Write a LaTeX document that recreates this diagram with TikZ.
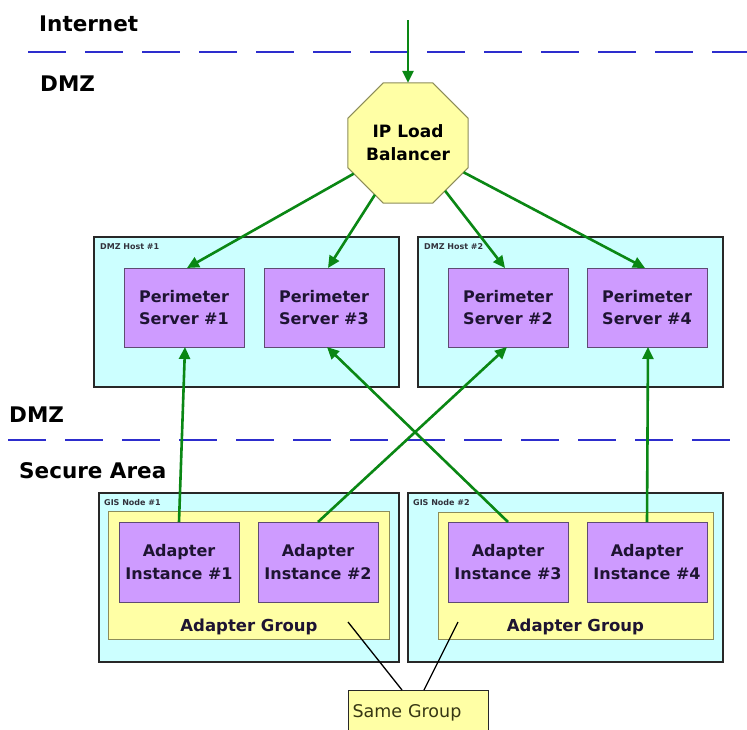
\documentclass[tikz,border=0pt]{standalone}
\usepackage{fontspec}
\setmainfont{DejaVu Sans}
\usetikzlibrary{shapes.geometric,arrows.meta,calc}
\definecolor{zoneblue}{RGB}{45,45,205}
\definecolor{cyanfill}{RGB}{204,255,255}
\definecolor{yelfill}{RGB}{255,255,165}
\definecolor{violetfill}{RGB}{206,155,255}
\definecolor{boxline}{RGB}{40,40,40}
\definecolor{srvline}{RGB}{95,75,115}
\definecolor{grpline}{RGB}{140,140,90}
\definecolor{flowgreen}{RGB}{10,135,20}
\definecolor{txt}{RGB}{30,20,50}
\definecolor{tagtxt}{RGB}{50,50,60}
\definecolor{sgtxt}{RGB}{55,55,20}
\tikzset{
  zone/.style={draw=zoneblue, line width=2pt, dash pattern=on 38pt off 19pt},
  heading/.style={font=\bfseries\fontsize{21.5}{24}\selectfont, anchor=base west, inner sep=0, text=black},
  hostbox/.style={draw=boxline, line width=1.8pt, fill=cyanfill, inner sep=0, outer sep=0},
  grpbox/.style={draw=grpline, line width=1pt, fill=yelfill, inner sep=0, outer sep=0},
  srv/.style={draw=srvline, line width=1pt, fill=violetfill, minimum width=120, minimum height=79,
    inner sep=0, outer sep=0, align=center, text=txt, font=\bfseries\fontsize{16}{22.5}\selectfont},
  tag/.style={font=\bfseries\fontsize{8}{9}\selectfont, text=tagtxt, anchor=north west, inner sep=0},
  grplabel/.style={font=\bfseries\fontsize{16.5}{20}\selectfont, text=txt, anchor=base, inner sep=0},
  balancer/.style={regular polygon, regular polygon sides=8, minimum size=130, inner sep=0, outer sep=0,
    draw=grpline, line width=1pt, fill=yelfill, align=center, text=black,
    font=\bfseries\fontsize{17}{23}\selectfont},
  flow/.style={draw=flowgreen, line width=2.6pt, -{Triangle[length=12pt,width=11pt]}},
  link/.style={draw=black, line width=1.3pt},
  samebox/.style={draw=boxline, line width=1.2pt, fill=yelfill, anchor=north west, minimum width=140,
    minimum height=44, text width=132, inner sep=4, align=left, text=sgtxt,
    font=\fontsize{17.5}{20}\selectfont},
}
\begin{document}
\begin{tikzpicture}[x=1pt,y=-1pt]
\useasboundingbox[fill=white] (0,0) rectangle (747,729);

% zone separators and headings
\draw[zone] (28,52) -- (747,52);
\draw[zone] (8,440) -- (747,440);
\node[heading] (tinternet) at (39,31) {Internet};
\node[heading] (tdmz1) at (40,91) {DMZ};
\node[heading] (tdmz2) at (9,422) {DMZ};
\node[heading] (tsecure) at (19,478) {Secure Area};

% DMZ hosts
\node[hostbox, minimum width=305, minimum height=150] (h1) at (246.5,312) {};
\node[hostbox, minimum width=305, minimum height=150] (h2) at (570.5,312) {};
\node[tag] (h1t) at ($(h1.north west)+(6,6)$) {DMZ Host \#1};
\node[tag] (h2t) at ($(h2.north west)+(6,6)$) {DMZ Host \#2};

\node[srv] (ps1) at (184,307.5) {Perimeter\\Server \#1};
\node[srv] (ps3) at (324,307.5) {Perimeter\\Server \#3};
\node[srv] (ps2) at (508,307.5) {Perimeter\\Server \#2};
\node[srv] (ps4) at (647,307.5) {Perimeter\\Server \#4};

% GIS nodes
\node[hostbox, minimum width=300, minimum height=169] (g1) at (249,577.5) {};
\node[hostbox, minimum width=315, minimum height=169] (g2) at (565.5,577.5) {};
\node[tag] (g1t) at ($(g1.north west)+(5,6)$) {GIS Node \#1};
\node[tag] (g2t) at ($(g2.north west)+(5,6)$) {GIS Node \#2};

\node[grpbox, minimum width=281, minimum height=128] (ag1) at (248.5,575) {};
\node[grpbox, minimum width=275, minimum height=127] (ag2) at (575.5,575.5) {};
\node[grplabel] (ag1t) at (249,631) {Adapter Group};
\node[grplabel] (ag2t) at (575.5,631) {Adapter Group};

\node[srv, minimum height=80] (ai1) at (179,562) {Adapter\\Instance \#1};
\node[srv, minimum height=80] (ai2) at (318,562) {Adapter\\Instance \#2};
\node[srv, minimum height=80] (ai3) at (508,562) {Adapter\\Instance \#3};
\node[srv, minimum height=80] (ai4) at (647,562) {Adapter\\Instance \#4};

% load balancer
\node[balancer] (lb) at (408,143) {IP Load\\Balancer};
\coordinate (net) at (408,20);

% same group
\node[samebox] (sg) at (348,690) {Same Group};
\coordinate (sg1) at (348,622);
\coordinate (sg2) at (458,622);
\draw[link] ($(sg.north west)+(54,0)$) -- (sg1);
\draw[link] ($(sg.north west)+(76,0)$) -- (sg2);

% flows
\draw[flow] (net) -- (lb.north);
\draw[flow] (lb) -- ($(ps1.north)+(3,0)$);
\draw[flow] (lb) -- ($(ps3.north)+(4,0)$);
\draw[flow] (lb) -- ($(ps2.north)+(-3,0)$);
\draw[flow] (lb) -- ($(ps4.north)+(-2,0)$);
\draw[flow] (ai1.north) -- ($(ps1.south)+(1,0)$);
\draw[flow] (ai2.north) -- ($(ps2.south)+(-1,0)$);
\draw[flow] (ai3.north) -- ($(ps3.south)+(3,0)$);
\draw[flow] (ai4.north) -- ($(ps4.south)+(1,0)$);
\end{tikzpicture}
\end{document}
